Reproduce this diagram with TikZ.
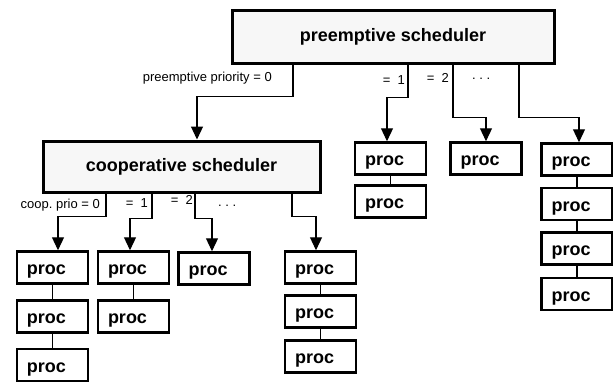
\documentclass[tikz,border=0pt]{standalone}
\usepackage{fontspec}
\setmainfont{Liberation Sans}
\usetikzlibrary{arrows.meta}

\begin{document}
\begin{tikzpicture}[x=1pt,y=-1pt,>={Triangle[width=12pt,length=13pt]},
		sched/.style={draw,line width=3pt,fill=black!3,inner sep=0pt,font=\fontsize{18}{20}\selectfont\bfseries},
		proc/.style={draw,line width=2.5pt,fill=white,minimum height=32pt,text width=51pt,text height=16pt,text depth=2pt,inner xsep=10pt,inner ysep=0pt,align=left,font=\fontsize{18}{20}\selectfont\bfseries},
		prio/.style={font=\fontsize{13}{15}\selectfont,inner sep=0pt},
		link/.style={line width=1.2pt}]
			\useasboundingbox (0,0) rectangle (613,381);
			\node[sched,minimum width=322pt,minimum height=53pt] (pre) at (393,36.5) {preemptive scheduler\hspace{10pt}};
			\node[sched,minimum width=277pt,minimum height=51pt] (coop) at (181.5,166.5) {cooperative scheduler\hspace{10pt}};
			\node[proc] (pA1) at (390.5,158.5) {proc};
			\node[proc] (pA2) at (390.5,201.5) {proc};
			\node[proc] (pB1) at (486,158.5) {proc};
			\node[proc] (pC1) at (577,159.5) {proc};
			\node[proc] (pC2) at (577,204) {proc};
			\node[proc] (pC3) at (577,248.5) {proc};
			\node[proc] (pC4) at (577,294) {proc};
			\node[proc] (p11) at (52.5,267.5) {proc};
			\node[proc] (p12) at (52.5,316.5) {proc};
			\node[proc] (p13) at (52.5,365) {proc};
			\node[proc] (p21) at (133.5,267.5) {proc};
			\node[proc] (p22) at (133.5,316.5) {proc};
			\node[proc] (p31) at (214,268.5) {proc};
			\node[proc] (p41) at (320.5,267.5) {proc};
			\node[proc] (p42) at (320.5,311.5) {proc};
			\node[proc] (p43) at (320.5,356.5) {proc};
			\draw[link,->] ([xshift=-100pt]pre.south) -- ++(0,32) -| ([xshift=15.5pt]coop.north);
			\draw[link,->] ([xshift=15pt]pre.south) -- ++(0,33) -| ([xshift=-3.5pt]pA1.north);
			\draw[link,->] ([xshift=60pt]pre.south) -- ++(0,53) -| (pB1.north);
			\draw[link,->] ([xshift=126pt]pre.south) -- ++(0,53) -| ([xshift=2pt]pC1.north);
			\draw[link,->] ([xshift=-75.5pt]coop.south) -- ++(0,23) -| ([xshift=5.5pt]p11.north);
			\draw[link,->] ([xshift=-29.5pt]coop.south) -- ++(0,25) -| ([xshift=-3.5pt]p21.north);
			\draw[link,->] ([xshift=13.5pt]coop.south) -- ++(0,25) -| ([xshift=-2pt]p31.north);
			\draw[link,->] ([xshift=110.5pt]coop.south) -- ++(0,23) -| ([xshift=-4.5pt]p41.north);
			\draw[link] (pA1) -- (pA2);
			\draw[link] (pC1) -- (pC2);
			\draw[link] (pC2) -- (pC3);
			\draw[link] (pC3) -- (pC4);
			\draw[link] (p11) -- (p12);
			\draw[link] (p12) -- (p13);
			\draw[link] (p21) -- (p22);
			\draw[link] (p41) -- (p42);
			\draw[link] (p42) -- (p43);
			\node[prio,anchor=east] (lp0) at (272,78) {preemptive priority = 0};
			\node[prio,anchor=east] (lp1) at (405,80) {=\ \ 1};
			\node[prio,anchor=east] (lp2) at (449,78) {=\ \ 2};
			\node[prio,anchor=west] (lpn) at (472,79) {.\ .\ .};
			\node[prio,anchor=east] (lc0) at (100,205) {coop.\ prio = 0};
			\node[prio,anchor=east] (lc1) at (148,203) {=\ \ 1};
			\node[prio,anchor=east] (lc2) at (193,200) {=\ \ 2};
			\node[prio,anchor=west] (lcn) at (218,206) {.\ .\ .};
		\end{tikzpicture}
\end{document}
